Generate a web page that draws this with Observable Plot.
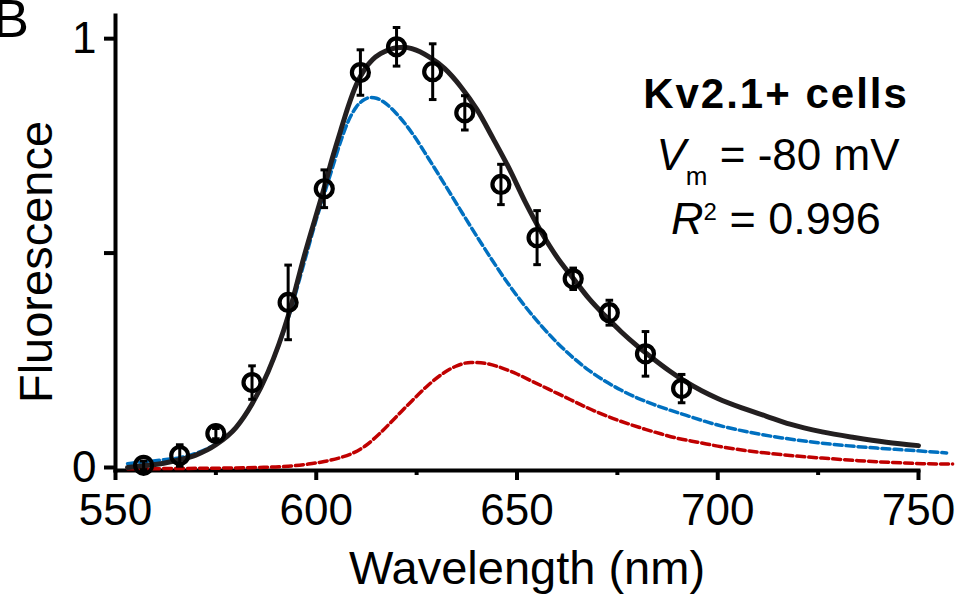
<!DOCTYPE html>
<html><head><meta charset="utf-8">
<script src="https://cdn.jsdelivr.net/npm/d3@7"></script>
<script src="https://cdn.jsdelivr.net/npm/@observablehq/plot@0.6"></script>
<style>
html, body {margin:0; padding:0; background:#fff;}
#wrap {position:relative; width:963px; height:598px; overflow:hidden; font-family:"Liberation Sans", Arial, Helvetica, sans-serif; color:#000;}
#chart {position:absolute; left:0; top:0;}
.t {position:absolute; white-space:nowrap; line-height:1;}
.c {transform:translateX(-50%);}
</style></head>
<body>
<div id="wrap">
<div id="chart"></div>
<div class="t" style="left:-7px; top:-9px; font-size:54px;">B</div>
<div class="t" style="left:35px; top:262px; font-size:47px; transform:translate(-50%,-50%) rotate(-90deg);">Fluorescence</div>
<div class="t c" style="left:527px; top:544px; font-size:47px;">Wavelength (nm)</div>
<div class="t c" style="left:776px; top:73px; font-size:42px; font-weight:bold; letter-spacing:2px;">Kv2.1+ cells</div>
<div class="t c" style="left:778px; top:133px; font-size:44px;"><i>V</i><span style="position:relative; top:15px; font-size:26px;">m</span> = -80 mV</div>
<div class="t c" style="left:776px; top:196px; font-size:45px;"><i>R</i><span style="position:relative; top:-14px; font-size:24px;">2</span> = 0.996</div>
</div>
<script>
// Measured data (mean ± error)
const wavelength = [557, 566, 575, 584, 593, 602, 611, 620, 629, 637, 646, 655, 664, 673, 682, 691];
const fluorescence = [0.012, 0.035, 0.086, 0.205, 0.392, 0.657, 0.928, 0.988, 0.930, 0.834, 0.667, 0.543, 0.447, 0.368, 0.272, 0.191];
const errorBar = [0.010, 0.025, 0.012, 0.039, 0.087, 0.044, 0.053, 0.045, 0.065, 0.040, 0.047, 0.063, 0.025, 0.029, 0.052, 0.033];

// Total fit (black)
const fitWl = [553, 557, 562, 566, 570, 575, 580, 584, 588, 593, 597, 602, 604, 606, 608, 610, 612, 614, 616, 618, 620, 622, 624, 628, 632, 636, 640, 644, 648, 652, 656, 660, 664, 668, 672, 676, 680, 684, 688, 692, 696, 700, 706, 712, 718, 726, 734, 742, 750];
const fitVal = [0.007, 0.011, 0.017, 0.025, 0.036, 0.06, 0.1, 0.155, 0.23, 0.36, 0.5, 0.66, 0.728, 0.79, 0.85, 0.9, 0.935, 0.958, 0.972, 0.981, 0.986, 0.987, 0.983, 0.965, 0.937, 0.895, 0.842, 0.775, 0.705, 0.627, 0.557, 0.497, 0.448, 0.40, 0.36, 0.323, 0.29, 0.26, 0.232, 0.207, 0.186, 0.168, 0.146, 0.127, 0.108, 0.09, 0.077, 0.066, 0.058];

// Component 1 (blue dashed)
const blueWl = [553, 557, 562, 566, 570, 575, 580, 584, 588, 593, 597, 600, 602, 604, 606, 608, 610, 612, 613.5, 615, 617, 620, 624, 628, 632, 636, 640, 644, 648, 652, 656, 660, 664, 668, 672, 676, 680, 684, 688, 692, 700, 708, 716, 724, 732, 740, 748, 757];
const blueVal = [0.016, 0.02, 0.025, 0.03, 0.04, 0.062, 0.1, 0.155, 0.23, 0.355, 0.485, 0.585, 0.645, 0.705, 0.765, 0.815, 0.848, 0.865, 0.87, 0.868, 0.858, 0.832, 0.785, 0.727, 0.667, 0.606, 0.546, 0.488, 0.433, 0.383, 0.338, 0.298, 0.263, 0.233, 0.208, 0.187, 0.169, 0.154, 0.141, 0.129, 0.106, 0.089, 0.076, 0.066, 0.058, 0.052, 0.047, 0.041];

// Component 2 (red dashed)
const redWl = [553, 570, 585, 593, 598, 602, 606, 609, 612, 616, 620, 624, 628, 632, 635, 638.5, 642, 646, 650, 654, 658, 662, 666, 670, 674, 678, 682, 686, 690, 695, 701, 710, 718, 726, 735, 743, 751, 758.5];
const redVal = [0.004, 0.005, 0.007, 0.01, 0.015, 0.021, 0.03, 0.04, 0.056, 0.088, 0.126, 0.164, 0.2, 0.229, 0.244, 0.252, 0.25, 0.24, 0.225, 0.207, 0.189, 0.171, 0.153, 0.136, 0.121, 0.108, 0.096, 0.085, 0.075, 0.066, 0.055, 0.043, 0.035, 0.029, 0.023, 0.019, 0.016, 0.015];

// Axes
const xTicks = [550, 600, 650, 700, 750];
const xMinorTicks = [575, 625, 675, 725];
const yTicks = [0, 0.5, 1];
const yTickLabels = ["0", "", "1"];

const points = wavelength.map((w, i) => ({wl: w, f: fluorescence[i], e: errorBar[i]}));
const fit = fitWl.map((w, i) => ({wl: w, v: fitVal[i]}));
const blue = blueWl.map((w, i) => ({wl: w, v: blueVal[i]}));
const red = redWl.map((w, i) => ({wl: w, v: redVal[i]}));

const cap = {draw(ctx) { ctx.moveTo(-3.8, 0); ctx.lineTo(3.8, 0); }};

const chart = Plot.plot({
  width: 963, height: 598,
  marginLeft: 115, marginRight: 45, marginTop: 15, marginBottom: 128,
  style: {fontFamily: "Liberation Sans, Arial, sans-serif", fontSize: "44px", color: "#000", background: "transparent", overflow: "visible"},
  x: {domain: [550, 750], label: null},
  y: {domain: [0, 1.061], label: null},
  marks: [
    Plot.axisX({ticks: xMinorTicks, tickSize: 5, strokeWidth: 4, tickFormat: () => "", label: null}),
    Plot.axisX({ticks: xTicks, tickSize: 10, tickPadding: 13, strokeWidth: 4, fontSize: 44, label: null}),
    Plot.axisY({ticks: yTicks, tickSize: 11, tickPadding: 8, strokeWidth: 4, fontSize: 44, dy: -3, tickFormat: d => yTickLabels[yTicks.indexOf(d)], label: null}),
    Plot.frame({anchor: "left", strokeWidth: 4}),
    Plot.frame({anchor: "bottom", strokeWidth: 4}),
    Plot.line(red, {x: "wl", y: "v", curve: "monotone-x", stroke: "#c00000", strokeWidth: 3.5, strokeDasharray: "8,4"}),
    Plot.line(blue, {x: "wl", y: "v", curve: "monotone-x", stroke: "#0070c0", strokeWidth: 3.5, strokeDasharray: "8,4"}),
    Plot.line(fit, {x: "wl", y: "v", curve: "monotone-x", stroke: "#231f20", strokeWidth: 5}),
    Plot.ruleX(points, {x: "wl", y1: d => d.f - d.e, y2: d => d.f + d.e, stroke: "#000", strokeWidth: 3}),
    Plot.dot(points, {x: "wl", y: d => d.f + d.e, symbol: cap, stroke: "#000", strokeWidth: 3, fill: "none"}),
    Plot.dot(points, {x: "wl", y: d => d.f - d.e, symbol: cap, stroke: "#000", strokeWidth: 3, fill: "none"}),
    Plot.dot(points, {x: "wl", y: "f", r: 8.5, stroke: "#000", strokeWidth: 4.2, fill: "none"})
  ]
});
document.getElementById("chart").appendChild(chart);
</script>
</body></html>
